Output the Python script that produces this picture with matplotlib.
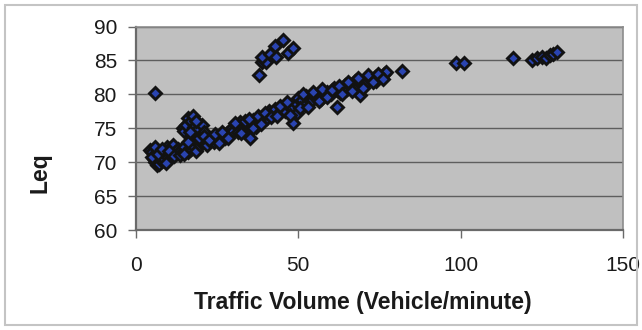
import matplotlib
matplotlib.use("Agg")
import matplotlib.pyplot as plt
from matplotlib.patches import Rectangle

plt.rcParams['font.family'] = ['Liberation Sans', 'DejaVu Sans']

# Main band of observations (traffic volume, Leq)
band_x = [4.5, 5, 5.5, 6, 6, 6.5, 7, 7.3, 7.5, 8, 8.5, 9, 9.5, 10, 10.6, 11, 11.5, 12, 12.6, 13,
          14.5, 15, 15.5, 16.2, 17, 17.6, 18, 19, 20.3, 21,
          14, 15, 16.2, 17, 18, 18.5, 19.8, 20.5, 21.5, 22, 23.4, 24, 25, 26, 27, 27.5, 28, 29, 29.5, 30,
          31, 31.6, 32, 33, 34, 34.2, 35.2, 35.5, 36, 36.7, 37, 38, 39.3, 40, 40.5, 41, 42, 42.4, 43, 44,
          45.3, 46, 47, 48, 48.5, 49.1, 49.5, 50, 51.1, 52, 52.5, 53.2, 54, 55.2, 56, 57, 58, 58.8, 60, 61,
          61.9, 62, 63, 64.5, 65, 66, 67.5, 68, 69.1, 69.5, 70.6, 71, 72, 73.7, 74, 75, 76.3, 77]
band_y = [71.8, 71.5, 70.5, 70.0, 72.3, 69.6, 70.3, 69.7, 71.0, 70.1, 70.6, 71.5, 72.2, 70.8, 72.0, 71.2, 72.6, 71.5, 71.3, 72.0,
          75.0, 74.6, 75.5, 76.5, 76.0, 76.8, 75.2, 74.8, 75.5, 74.5,
          71.8, 72.3, 71.5, 72.0, 72.2, 71.6, 72.5, 72.8, 73.0, 72.6, 73.5, 73.0, 73.4, 73.7, 74.0, 73.5, 74.3, 74.2, 75.0, 74.6,
          75.5, 74.5, 75.9, 75.2, 74.8, 75.5, 73.5, 75.8, 76.2, 76.0, 75.2, 76.4, 76.2, 77.0, 76.5, 77.5, 76.9, 77.4, 77.8, 77.2,
          78.1, 77.5, 78.5, 78.0, 75.8, 78.9, 77.3, 79.5, 79.2, 78.5, 79.8, 79.4, 79.0, 79.6, 80.0, 79.3, 80.4, 80.4, 80.0, 81.0,
          78.1, 80.6, 80.2, 81.4, 80.8, 81.2, 81.9, 81.0, 79.9, 81.5, 82.1, 81.6, 82.3, 82.5, 82.0, 82.7, 83.0, 83.3]

# Further readings inside the dense band
fill_x = [5, 6.8, 8.2, 9.2, 10.2, 11.8, 13.5, 14.8, 16, 16.8, 18.6, 19.5, 21, 22.5, 24.5, 25.5, 26.5, 28.5,
          30.5, 32.5, 33.5, 35, 36, 37.5, 38.5, 39.8, 41.5, 43.5, 44.5, 46.5, 47.5, 50.5, 51.5, 53, 54.5,
          56.5, 57.5, 59, 60.5, 62.5, 63.5, 65.5, 66.5, 68.5, 70, 71.5, 73, 74.5, 76]
fill_y = [70.8, 71.2, 72.0, 69.9, 71.6, 70.9, 71.0, 71.2, 73.0, 74.5, 76.0, 73.5, 73.8, 73.3, 74.2, 72.8, 74.5, 73.6,
          75.8, 74.3, 76.0, 76.3, 75.0, 76.8, 75.6, 77.3, 76.6, 76.8, 78.3, 78.8, 77.0, 78.0, 80.0, 78.2, 80.3,
          79.0, 80.8, 79.6, 80.6, 81.3, 80.0, 81.8, 80.5, 82.4, 81.0, 82.8, 81.8, 83.0, 82.3]

# Upper cluster around 40-48 vehicles/minute
high_x = [38.1, 39, 40, 39, 41.4, 42.9, 45.3, 43.1, 46.9, 48.3]
high_y = [82.8, 84.8, 84.7, 85.5, 86.0, 87.1, 88.0, 85.5, 86.1, 86.9]

# Isolated and high-volume points
other_x = [6, 82.1, 98.6, 101.2, 116, 122, 123.5, 125, 126.4, 127.6, 128.6, 129.8]
other_y = [80.2, 83.4, 84.6, 84.6, 85.4, 85.1, 85.4, 85.5, 85.4, 85.8, 86.0, 86.3]

x_ticks = [0, 50, 100, 150]
y_ticks = [60, 65, 70, 75, 80, 85, 90]

fig = plt.figure(figsize=(6.42, 3.30), dpi=100)
fig.patch.set_facecolor('white')
fig.patches.append(Rectangle((5 / 642, 5 / 330), 632 / 642, 320 / 330, transform=fig.transFigure,
                             fill=False, edgecolor='#c4c4c4', linewidth=1.5))

ax = fig.add_axes([135.7 / 642, 1 - 230 / 330, (623 - 135.7) / 642, (230 - 26.5) / 330])
ax.set_facecolor('#c0c0c0')

xs = band_x + fill_x + high_x + other_x
ys = band_y + fill_y + high_y + other_y
ax.plot(xs, ys, linestyle='none', marker='D', markersize=6.3,
        markerfacecolor='#2a44b0', markeredgecolor='#121212', markeredgewidth=2.1,
        clip_on=False, zorder=3)

ax.set_xlim(0, 150)
ax.set_ylim(60, 90)
ax.set_xticks(x_ticks)
ax.set_yticks(y_ticks)
ax.yaxis.grid(True, color='#5e5e5e', linewidth=1.0)
ax.set_axisbelow(True)

for side in ['top', 'right']:
    ax.spines[side].set_color('#8c8c8c')
    ax.spines[side].set_linewidth(1.2)
for side in ['left', 'bottom']:
    ax.spines[side].set_color('#6a6a6a')
    ax.spines[side].set_linewidth(1.6)

ax.tick_params(axis='y', direction='out', length=5.5, width=1.0, color='#6a6a6a',
               pad=8, labelsize=15, labelcolor='#1a1a1a')
ax.tick_params(axis='x', direction='out', length=5.5, width=1.0, color='#6a6a6a',
               pad=13, labelsize=15, labelcolor='#1a1a1a')

fig.text(363 / 642, 1 - 302 / 330, 'Traffic Volume (Vehicle/minute)', ha='center', va='center',
         fontsize=16.5, fontweight='bold', color='#1a1a1a')
fig.text(40 / 642, 1 - 173 / 330, 'Leq', ha='center', va='center', rotation=90,
         fontsize=16.5, fontweight='bold', color='#1a1a1a')

fig.savefig('out.png', dpi=100)
